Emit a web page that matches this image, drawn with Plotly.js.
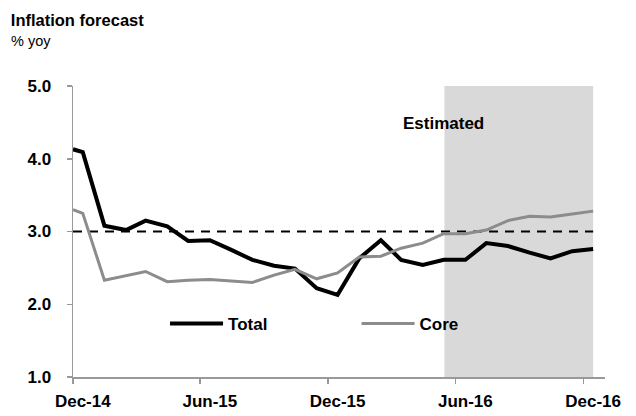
<!DOCTYPE html>
<html>
<head>
<meta charset="utf-8">
<script src="https://cdn.plot.ly/plotly-3.0.1.min.js"></script>
<style>
html,body{margin:0;padding:0;background:#fff;}
#chart{width:636px;height:416px;}
</style>
</head>
<body>
<div id="chart"></div>
<script>
const dates = ['2014-12-01','2014-12-15','2015-01-15','2015-02-15','2015-03-15','2015-04-15','2015-05-15','2015-06-15','2015-07-15','2015-08-15','2015-09-15','2015-10-15','2015-11-15','2015-12-15','2016-01-15','2016-02-15','2016-03-15','2016-04-15','2016-05-15','2016-06-15','2016-07-15','2016-08-15','2016-09-15','2016-10-15','2016-11-15','2016-12-15'];
const total = [4.13,4.09,3.08,3.02,3.15,3.07,2.87,2.88,2.75,2.61,2.53,2.49,2.22,2.13,2.63,2.88,2.61,2.54,2.61,2.61,2.84,2.80,2.71,2.63,2.73,2.76];
const core = [3.30,3.25,2.33,2.39,2.45,2.31,2.33,2.34,2.32,2.30,2.40,2.48,2.35,2.43,2.65,2.66,2.77,2.84,2.97,2.97,3.02,3.15,3.21,3.20,3.24,3.28];
const target = dates.map(() => 3.0);
const tickMarks = ['2014-12-01','2015-06-01','2015-12-01','2016-06-01','2016-12-01'];
const labelDates = ['2014-12-15','2015-06-15','2015-12-15','2016-06-15','2016-12-15'];
const tickLabels = ['Dec-14','Jun-15','Dec-15','Jun-16','Dec-16'];
const estStart = '2016-05-16';
const estEnd = '2016-12-15';

const FONT = '"Liberation Sans", Arial, sans-serif';

const traces = [
  {x: dates, y: target, type: 'scatter', mode: 'lines', showlegend: false,
   line: {color: '#000', width: 2, dash: '9px,7px'}, hoverinfo: 'skip'},
  {x: dates, y: total, type: 'scatter', mode: 'lines', name: 'Total', legend: 'legend',
   line: {color: '#000', width: 4}},
  {x: dates, y: core, type: 'scatter', mode: 'lines', name: 'Core', legend: 'legend2',
   line: {color: '#8c8c8c', width: 3}}
];

const legFont = {family: FONT, size: 17, color: '#000', weight: 'bold'};

const layout = {
  width: 636, height: 416,
  margin: {l: 73, r: 31, t: 86, b: 39},
  paper_bgcolor: '#fff', plot_bgcolor: '#fff',
  font: {family: FONT, color: '#000', size: 17},
  title: {text: 'Inflation forecast', x: 0.017, xanchor: 'left', y: 0.952, yanchor: 'middle',
          font: {family: FONT, size: 16.5, color: '#000', weight: 'bold'}},
  xaxis: {
    type: 'date', range: ['2014-12-01', '2017-01-01'],
    tickmode: 'array', tickvals: labelDates, ticktext: tickLabels,
    ticks: '', showline: true, linecolor: '#999', linewidth: 1.5,
    showgrid: false, zeroline: false, ticklabelstandoff: 8,
    tickfont: {family: FONT, size: 17, color: '#000', weight: 'bold'},
    minor: {tickmode: 'array', tickvals: tickMarks, ticks: 'outside', ticklen: 5, tickwidth: 1.5,
            tickcolor: '#999', showgrid: false}
  },
  yaxis: {
    range: [1, 5], tickmode: 'array', tickvals: [1,2,3,4,5], ticktext: ['1.0','2.0','3.0','4.0','5.0'],
    ticks: 'outside', ticklen: 5, tickwidth: 1.5, tickcolor: '#999',
    showline: true, linecolor: '#999', linewidth: 1.5,
    showgrid: false, zeroline: false, ticklabelstandoff: 12,
    tickfont: {family: FONT, size: 17, color: '#000', weight: 'bold'}
  },
  shapes: [
    {type: 'rect', xref: 'x', yref: 'y', x0: estStart, x1: estEnd, y0: 1, y1: 5,
     fillcolor: '#d9d9d9', line: {width: 0}, layer: 'below'}
  ],
  annotations: [
    {text: '% yoy', xref: 'paper', yref: 'paper', x: -0.1205, y: 1.1546,
     xanchor: 'left', yanchor: 'middle', showarrow: false, font: {family: FONT, size: 14.5, color: '#000'}},
    {text: 'Estimated', xref: 'x', yref: 'y', x: '2016-05-14', y: 4.49, showarrow: false,
     xanchor: 'center', yanchor: 'middle', font: {family: FONT, size: 17, color: '#000', weight: 'bold'}}
  ],
  legend: {
    orientation: 'h', x: 0.173, xanchor: 'left', y: 0.182, yanchor: 'middle',
    bgcolor: 'rgba(0,0,0,0)', font: legFont, itemwidth: 53
  },
  legend2: {
    orientation: 'h', x: 0.533, xanchor: 'left', y: 0.182, yanchor: 'middle',
    bgcolor: 'rgba(0,0,0,0)', font: legFont, itemwidth: 53
  }
};

Plotly.newPlot('chart', traces, layout, {displayModeBar: false, staticPlot: true});
</script>
</body>
</html>
